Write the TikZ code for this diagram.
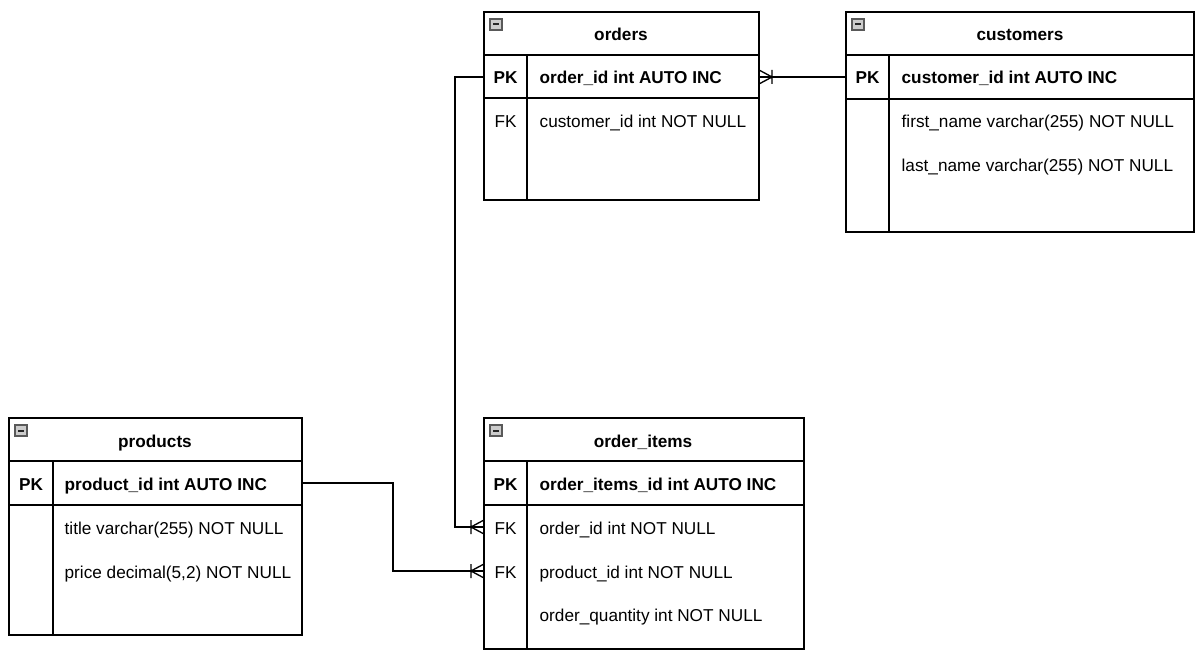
\documentclass[tikz,border=0pt]{standalone}
\usepackage{fontspec}
\setmainfont{Liberation Sans}
\begin{document}
\begin{tikzpicture}[x=0.75pt,y=-0.75pt,line width=1pt,
  frame/.style={draw=black,line width=1pt},
  conn/.style={draw=black,line width=1pt},
  txt/.style={inner sep=0pt,font=\fontsize{12.9}{15}\selectfont},
  bold/.style={txt,font=\bfseries\fontsize{12.9}{15}\selectfont},
  tabtitle/.style={bold,anchor=base},
  keylab/.style={txt,anchor=base},
  pklab/.style={bold,anchor=base},
  field/.style={txt,anchor=base west},
  pkfield/.style={bold,anchor=base west},
  iconbox/.style={draw=gray!70!black,fill=gray!40,line width=0.9pt}
]
\useasboundingbox (0,0) rectangle (1199,659);

% icon macro
\newcommand\minusicon[2]{%
  \draw[iconbox] (#1,#2) rectangle ++(12,11);
  \draw[line width=1.5pt,black!85] (#1+3,#2+5.5) -- (#1+9,#2+5.5);}

% ---------- orders ----------
\draw[frame] (484,12) rectangle (759,200);
\draw[frame] (484,55) -- (759,55) (484,98) -- (759,98) (527,55) -- (527,200);
\minusicon{490}{19}
\node[tabtitle] (ordT) at (621,41) {orders};
\node[pklab] (ordPK) at (505.5,84) {PK};
\node[pkfield] (ordPKf) at (539,84) {order\_id int AUTO INC};
\node[keylab] (ordFK) at (505.5,128) {FK};
\node[field] (ordF1) at (539,128) {customer\_id int NOT NULL};

% ---------- customers ----------
\draw[frame] (846,12) rectangle (1194,232);
\draw[frame] (846,55) -- (1194,55) (846,99) -- (1194,99) (889,55) -- (889,232);
\minusicon{852}{19}
\node[tabtitle] (cusT) at (1020,41) {customers};
\node[pklab] (cusPK) at (867.5,84) {PK};
\node[pkfield] (cusPKf) at (901,84) {customer\_id int AUTO INC};
\node[field] (cusF1) at (901,128) {first\_name varchar(255) NOT NULL};
\node[field] (cusF2) at (901,172) {last\_name varchar(255) NOT NULL};

% ---------- products ----------
\draw[frame] (9,418) rectangle (302,635);
\draw[frame] (9,461) -- (302,461) (9,505) -- (302,505) (53,461) -- (53,635);
\minusicon{15}{425}
\node[tabtitle] (prdT) at (155,447) {products};
\node[pklab] (prdPK) at (31,490) {PK};
\node[pkfield] (prdPKf) at (64,490) {product\_id int AUTO INC};
\node[field] (prdF1) at (64,534) {title varchar(255) NOT NULL};
\node[field] (prdF2) at (64,578) {price decimal(5,2) NOT NULL};

% ---------- order_items ----------
\draw[frame] (484,418) rectangle (804,649);
\draw[frame] (484,461) -- (804,461) (484,505) -- (804,505) (527,461) -- (527,649);
\minusicon{490}{425}
\node[tabtitle] (oiT) at (643,447) {order\_items};
\node[pklab] (oiPK) at (505.5,490) {PK};
\node[pkfield] (oiPKf) at (539,490) {order\_items\_id int AUTO INC};
\node[keylab] (oiFK1) at (505.5,534) {FK};
\node[field] (oiF1) at (539,534) {order\_id int NOT NULL};
\node[keylab] (oiFK2) at (505.5,578) {FK};
\node[field] (oiF2) at (539,578) {product\_id int NOT NULL};
\node[field] (oiF3) at (539,621) {order\_quantity int NOT NULL};

% ---------- connector end points ----------
\coordinate (ordL) at (484,77);
\coordinate (ordR) at (759,77);
\coordinate (cusL) at (846,77);
\coordinate (prdR) at (302,483);
\coordinate (oiIn1) at (484,527);
\coordinate (oiIn2) at (484,571);

% connectors
\draw[conn] (ordL) -- (455,77) -- (455,527) -- (oiIn1);
\draw[conn] (ordR) -- (cusL);
\draw[conn,line width=1.6pt] ([xshift=-12pt]cusL) -- (cusL);
\draw[conn] (prdR) -- (393,483) -- (393,571) -- (oiIn2);

% crow's feet (one or many)
\begin{scope}[shift={(oiIn1)}]
  \draw[conn] (-13,0) -- (0,-7) (-13,0) -- (0,7) (-13,-7) -- (-13,7);
\end{scope}
\begin{scope}[shift={(oiIn2)}]
  \draw[conn] (-13,0) -- (0,-7) (-13,0) -- (0,7) (-13,-7) -- (-13,7);
\end{scope}
\begin{scope}[shift={(ordR)}]
  \draw[conn] (13,0) -- (0,-7) (13,0) -- (0,7) (13,-7) -- (13,7);
\end{scope}
\end{tikzpicture}
\end{document}
